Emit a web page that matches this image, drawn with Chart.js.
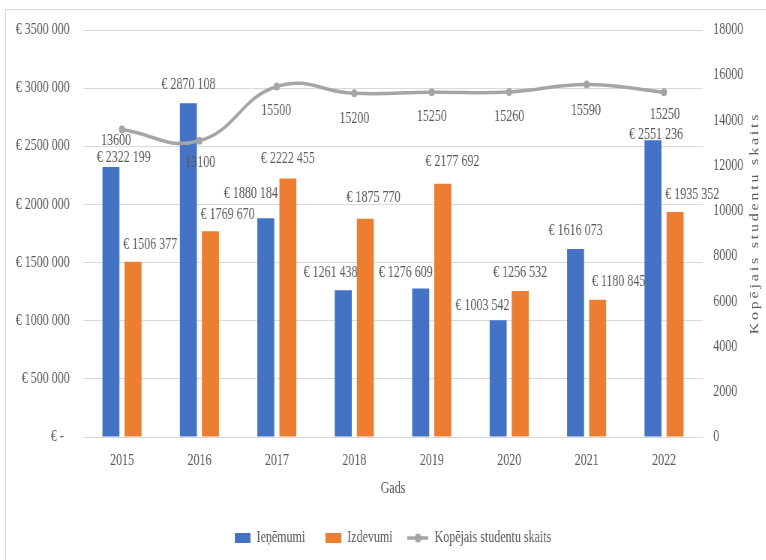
<!DOCTYPE html>
<html lang="lv">
<head>
<meta charset="UTF-8">
<title>Ieņēmumi, izdevumi un studentu skaits</title>
<script src="https://cdn.jsdelivr.net/npm/chart.js"></script>
<style>
  html, body { margin: 0; padding: 0; background: #fff; overflow: hidden; }
  body { width: 766px; height: 560px; position: relative; }
  .frame { position: absolute; left: 5px; top: 9px; width: 800px; height: 600px; border: 1px solid #d9d9d9; }
  /* the chart is laid out wider and squeezed horizontally, like the narrow serif text of the original */
  #chart { position: absolute; left: 0; top: 0; transform: scaleX(0.75); transform-origin: 0 0; }
</style>
</head>
<body>
<div class="frame"></div>
<canvas id="chart" width="1021" height="560"></canvas>
<script>
const years = ['2015', '2016', '2017', '2018', '2019', '2020', '2021', '2022'];
const ienemumi = [2322199, 2870108, 1880184, 1261438, 1276609, 1003542, 1616073, 2551236];
const izdevumi = [1506377, 1769670, 2222455, 1875770, 2177692, 1256532, 1180845, 1935352];
const studenti = [13600, 13100, 15500, 15200, 15250, 15260, 15590, 15250];
const euroTicks = [0, 500000, 1000000, 1500000, 2000000, 2500000, 3000000, 3500000];
const studentTicks = [0, 2000, 4000, 6000, 8000, 10000, 12000, 14000, 16000, 18000];

const BLUE = '#4472c4', ORANGE = '#ed7d31', GREY = '#a5a5a5', TEXT = '#595959';
const FONT = '"Liberation Serif", "Times New Roman", serif';

// label nudges (dx sideways, dy distance from the mark), per dataset
const labelNudge = [
  { dx: [17, 0, -20, -17, -20, -21, 0, 4], dy: [9, 18, 25, 18, 16, 15, 18, 6] },
  { dx: [23, 23, 0, 11, 13, 0, 28, 23], dy: [17, 16, 20, 21, 22, 18, 18, 17] },
  { dx: [-8, 1, -1, 0, 0, 0, -1, 1], dy: [11, 22, 24, 25, 25, 25, 26, 23] }
];

function euro(v) {
  if (v === 0) return '€ -  ';
  const th = Math.floor(v / 1000);
  const rest = String(v % 1000).padStart(3, '0');
  return '€ ' + th + ' ' + rest;
}

function boxIcon(color) {
  const c = document.createElement('canvas');
  c.width = 28; c.height = 10;
  const g = c.getContext('2d');
  g.fillStyle = color;
  g.fillRect(7, 0, 21, 10);
  return c;
}

function lineIcon(color) {
  const c = document.createElement('canvas');
  c.width = 28; c.height = 10;
  const g = c.getContext('2d');
  g.strokeStyle = color;
  g.lineWidth = 3.5;
  g.beginPath(); g.moveTo(0, 5); g.lineTo(28, 5); g.stroke();
  g.fillStyle = color;
  g.beginPath(); g.arc(14, 5, 4.5, 0, Math.PI * 2); g.fill();
  return c;
}

const legendIcons = [boxIcon(BLUE), boxIcon(ORANGE), lineIcon(GREY)];

const valueLabels = {
  id: 'valueLabels',
  afterDatasetsDraw(chart) {
    const ctx = chart.ctx;
    ctx.save();
    ctx.font = '16px ' + FONT;
    ctx.fillStyle = TEXT;
    ctx.textAlign = 'center';
    ctx.textBaseline = 'middle';
    chart.data.datasets.forEach((ds, di) => {
      const meta = chart.getDatasetMeta(di);
      const n = labelNudge[di];
      meta.data.forEach((el, i) => {
        const isLine = ds.type === 'line';
        const text = isLine ? String(ds.data[i]) : euro(ds.data[i]);
        const y = isLine ? el.y + n.dy[i] : el.y - n.dy[i];
        ctx.fillText(text, el.x + n.dx[i], y);
      });
    });
    ctx.restore();
  },
  afterDraw(chart) {
    // right axis title reads bottom to top
    const ctx = chart.ctx;
    ctx.save();
    ctx.translate(1007, 223);
    ctx.rotate(-Math.PI / 2);
    ctx.font = '16px ' + FONT;
    ctx.letterSpacing = '2.8px';
    ctx.fillStyle = TEXT;
    ctx.textAlign = 'center';
    ctx.textBaseline = 'middle';
    ctx.fillText('Kopējais studentu skaits', 0, 0);
    ctx.restore();
  }
};

Chart.defaults.font.family = FONT;
Chart.defaults.font.size = 16;
Chart.defaults.color = TEXT;

new Chart(document.getElementById('chart'), {
  type: 'bar',
  data: {
    labels: years,
    datasets: [
      {
        label: 'Ieņēmumi',
        data: ienemumi,
        backgroundColor: BLUE,
        yAxisID: 'y',
        order: 1,
        categoryPercentage: 0.57,
        barPercentage: 0.77
      },
      {
        label: 'Izdevumi',
        data: izdevumi,
        backgroundColor: ORANGE,
        yAxisID: 'y',
        order: 1,
        categoryPercentage: 0.57,
        barPercentage: 0.77
      },
      {
        type: 'line',
        label: 'Kopējais studentu skaits',
        data: studenti,
        borderColor: GREY,
        backgroundColor: GREY,
        borderWidth: 3.5,
        tension: 0.45,
        pointRadius: 4,
        pointBorderWidth: 0,
        pointBackgroundColor: GREY,
        yAxisID: 'y1',
        order: 0
      }
    ]
  },
  options: {
    responsive: false,
    devicePixelRatio: 1,
    animation: false,
    layout: { padding: { top: 30, left: 20, right: 0, bottom: 4 } },
    plugins: {
      tooltip: { enabled: false },
      legend: {
        position: 'bottom',
        labels: {
          color: TEXT,
          font: { size: 16 },
          usePointStyle: true,
          pointStyleWidth: 28,
          padding: 20,
          sort: (a, b) => a.datasetIndex - b.datasetIndex,
          generateLabels(chart) {
            const items = Chart.defaults.plugins.legend.labels.generateLabels(chart);
            items.forEach(it => { it.pointStyle = legendIcons[it.datasetIndex]; });
            return items;
          }
        }
      }
    },
    scales: {
      x: {
        grid: { display: false },
        border: { display: false },
        ticks: { padding: 6, font: { size: 16 } },
        title: { display: true, text: 'Gads', font: { size: 16 }, padding: { top: 0, bottom: 12 } },
        afterFit(s) { s.height = 73; }
      },
      y: {
        position: 'left',
        min: euroTicks[0],
        max: euroTicks[euroTicks.length - 1],
        afterBuildTicks(s) { s.ticks = euroTicks.map(v => ({ value: v })); },
        ticks: { padding: 18, callback: v => euro(v) },
        grid: { color: '#d9d9d9', drawTicks: false },
        border: { display: false },
        afterFit(s) { s.width = 91; }
      },
      y1: {
        position: 'right',
        min: studentTicks[0],
        max: studentTicks[studentTicks.length - 1],
        afterBuildTicks(s) { s.ticks = studentTicks.map(v => ({ value: v })); },
        ticks: { padding: 14, callback: v => String(v) },
        grid: { display: false, drawTicks: false },
        border: { display: false },
        afterFit(s) { s.width = 84; }
      }
    }
  },
  plugins: [valueLabels]
});
</script>
</body>
</html>
